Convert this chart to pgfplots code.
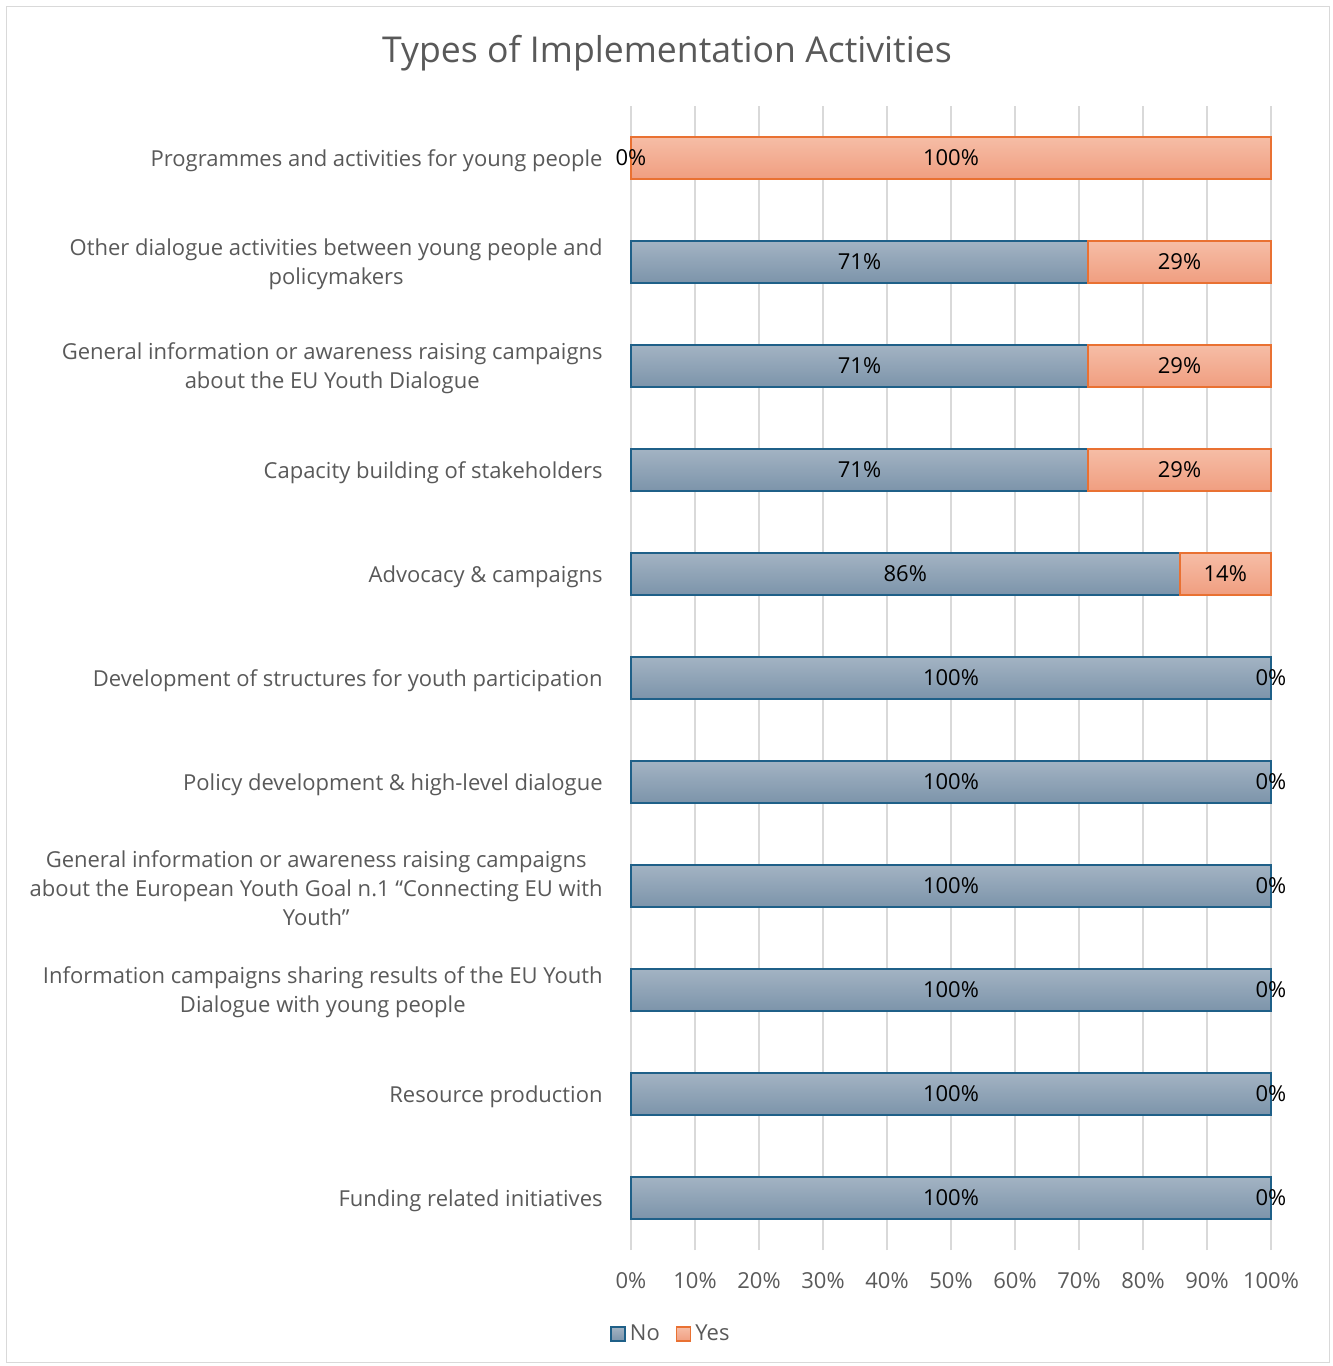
\documentclass[border=0pt]{standalone}
\usepackage{pgfplots}
\pgfplotsset{compat=1.18}
\usepackage{pgfplotstable}
\usepackage{fontspec}
\setmainfont{Open Sans}
\definecolor{txt}{HTML}{595959}
\definecolor{gridc}{HTML}{D9D9D9}
\definecolor{notop}{HTML}{A3B3C3}
\definecolor{nobot}{HTML}{7C94AA}
\definecolor{noborder}{HTML}{1F6088}
\definecolor{yestop}{HTML}{F6BDA6}
\definecolor{yesbot}{HTML}{F09E80}
\definecolor{yesborder}{HTML}{E97132}
% label positions (centre of each segment) and rounded labels
\pgfplotstableread{
y no yes nomid yesmid nolab yeslab
0 100 0 50 100 100 0
1 100 0 50 100 100 0
2 100 0 50 100 100 0
3 100 0 50 100 100 0
4 100 0 50 100 100 0
5 100 0 50 100 100 0
6 85.71 14.29 42.86 92.86 86 14
7 71.43 28.57 35.71 85.71 71 29
8 71.43 28.57 35.71 85.71 71 29
9 71.43 28.57 35.71 85.71 71 29
10 0 100 0 50 0 100
}\data
\newcommand{\lbl}{\fontsize{11}{14.5}\selectfont}
\pgfplotsset{
  nobar/.style={forget plot, mark=none, draw=noborder, line width=1pt, top color=notop, bottom color=nobot},
  yesbar/.style={forget plot, mark=none, draw=yesborder, line width=1pt, top color=yestop, bottom color=yesbot},
}
% #1 style, #2 start, #3 end, #4 lower y, #5 upper y
\newcommand{\seg}[5]{\addplot[#1] coordinates {(#2,#4) (#3,#4) (#3,#5) (#2,#5)} -- cycle;}
\begin{document}
\begin{tikzpicture}
\begin{axis}[
  at={(0pt,0pt)}, anchor=south west,
  scale only axis, width=320pt, height=572pt,
  xmin=0, xmax=100, ymin=-0.5, ymax=10.5,
  axis lines*=left, axis line style={draw=none},
  major tick length=0pt,
  /pgf/number format/assume math mode=true,
  xtick={0,10,...,100},
  xticklabel={\pgfmathprintnumber{\tick}\%},
  ytick={0,...,10},
  yticklabels={
    {Funding related initiatives},
    {Resource production},
    {Information campaigns sharing results of the EU Youth\\Dialogue with young people},
    {General information or awareness raising campaigns\\about the European Youth Goal n.1 “Connecting EU with\\Youth”},
    {Policy development \& high-level dialogue},
    {Development of structures for youth participation},
    {Advocacy \& campaigns},
    {Capacity building of stakeholders},
    {General information or awareness raising campaigns\\about the EU Youth Dialogue},
    {Other dialogue activities between young people and\\policymakers},
    {Programmes and activities for young people}
  },
  xmajorgrids, grid style={draw=gridc, line width=0.75pt},
  tick label style={font=\lbl, text=txt},
  yticklabel style={align=center, inner sep=0pt, xshift=-14pt, yshift=-1.3pt},
  xticklabel style={inner sep=0pt, anchor=north, yshift=-11pt},
  clip=false,
  title={Types of Implementation Activities},
  title style={at={(0.05625,1.036)}, anchor=center, yshift=0pt, font=\fontsize{17.8}{20}\selectfont, text=txt, inner sep=0pt},
  legend columns=2,
  legend style={at={(0.064,-0.0735)}, anchor=center, draw=none, fill=none, font=\lbl, text=txt,
    /tikz/every even column/.append style={column sep=6pt}},
]
\addlegendimage{legend image code/.code={\draw[draw=noborder, line width=0.8pt, top color=notop, bottom color=nobot] (0pt,-3.5pt) rectangle (7pt,3.5pt);}}
\addlegendentry{No}
\addlegendimage{legend image code/.code={\draw[draw=yesborder, line width=0.8pt, top color=yestop, bottom color=yesbot] (0pt,-3.5pt) rectangle (7pt,3.5pt);}}
\addlegendentry{Yes}
% No segments
\seg{nobar}{0}{100}{-0.2019}{0.2019}
\seg{nobar}{0}{100}{0.7981}{1.2019}
\seg{nobar}{0}{100}{1.7981}{2.2019}
\seg{nobar}{0}{100}{2.7981}{3.2019}
\seg{nobar}{0}{100}{3.7981}{4.2019}
\seg{nobar}{0}{100}{4.7981}{5.2019}
\seg{nobar}{0}{85.71}{5.7981}{6.2019}
\seg{nobar}{0}{71.43}{6.7981}{7.2019}
\seg{nobar}{0}{71.43}{7.7981}{8.2019}
\seg{nobar}{0}{71.43}{8.7981}{9.2019}
% Yes segments
\seg{yesbar}{85.71}{100}{5.7981}{6.2019}
\seg{yesbar}{71.43}{100}{6.7981}{7.2019}
\seg{yesbar}{71.43}{100}{7.7981}{8.2019}
\seg{yesbar}{71.43}{100}{8.7981}{9.2019}
\seg{yesbar}{0}{100}{9.7981}{10.2019}
% labels
\addplot[forget plot, draw=none, mark=none, nodes near coords={\pgfplotspointmeta\%},
  nodes near coords align=center, point meta=explicit symbolic,
  every node near coord/.append style={text=black, font=\lbl}]
  table[x=nomid, y=y, meta=nolab] {\data};
\addplot[forget plot, draw=none, mark=none, nodes near coords={\pgfplotspointmeta\%},
  nodes near coords align=center, point meta=explicit symbolic,
  every node near coord/.append style={text=black, font=\lbl}]
  table[x=yesmid, y=y, meta=yeslab] {\data};
\end{axis}
\draw[gridc, line width=0.5pt] (-312pt,-56pt) rectangle (349pt,621.5pt);
\pgfresetboundingbox
\path[use as bounding box] (-315.5pt,-58pt) rectangle (351pt,625pt);
\end{tikzpicture}
\end{document}
